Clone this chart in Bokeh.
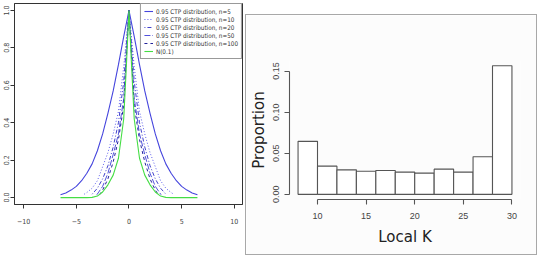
from bokeh.plotting import figure
from bokeh.layouts import row, column
from bokeh.models import FixedTicker, NumeralTickFormatter, Legend, LegendItem
from bokeh.embed import file_html
from bokeh.resources import INLINE

# ---- left panel: CTP distributions against N(0,1), right half (x >= 0) of each symmetric curve
x_n5 = [0, 0.5, 1, 1.5, 2, 2.5, 3, 3.5, 4, 4.5, 5, 5.5, 6, 6.5]
y_n5 = [1.0, 0.86, 0.71, 0.57, 0.45, 0.34, 0.25, 0.18, 0.13, 0.09, 0.06, 0.04, 0.025, 0.015]
x_n10 = [0, 0.5, 1, 1.5, 2, 2.5, 3, 3.5, 4, 4.25]
y_n10 = [1.0, 0.70, 0.46, 0.34, 0.24, 0.165, 0.09, 0.05, 0.027, 0.018]
x_n20 = [0, 0.5, 1, 1.5, 2, 2.5, 3, 3.5]
y_n20 = [1.0, 0.62, 0.40, 0.27, 0.17, 0.10, 0.05, 0.018]
x_n50 = [0, 0.5, 1, 1.5, 2, 2.5, 3.05]
y_n50 = [1.0, 0.53, 0.34, 0.23, 0.13, 0.06, 0.015]
x_n100 = [0, 0.5, 1, 1.5, 2, 2.5, 2.8]
y_n100 = [1.0, 0.49, 0.31, 0.19, 0.10, 0.04, 0.015]
x_norm = [0, 0.25, 0.5, 1, 1.5, 2, 2.5, 3, 3.5, 4, 5, 6, 6.5]
y_norm = [1.0, 0.70, 0.42, 0.21, 0.12, 0.068, 0.03, 0.008, 0.001, 0, 0, 0, 0]

series_labels = ["0.95 CTP distribution, n=5", "0.95 CTP distribution, n=10",
                 "0.95 CTP distribution, n=20", "0.95 CTP distribution, n=50",
                 "0.95 CTP distribution, n=100", "N(0.1)"]
left_xticks = [-10, -5, 0, 5, 10]
left_yticks = [0.0, 0.2, 0.4, 0.6, 0.8, 1.0]

# ---- right panel: histogram of local K
k_edges = [8, 10, 12, 14, 16, 18, 20, 22, 24, 26, 28, 30]
k_prop = [0.0645, 0.0343, 0.0298, 0.0282, 0.029, 0.027, 0.0258, 0.0307, 0.027, 0.0458, 0.1566]
right_xticks = [10, 15, 20, 25, 30]
right_yticks = [0.0, 0.05, 0.10, 0.15]

NARROW = "'DejaVu Sans Condensed', 'Liberation Sans', sans-serif"


def mirror(xs, ys):
    """Full symmetric curve from its right half."""
    fx = [-v for v in reversed(xs[1:])] + list(xs)
    fy = list(reversed(ys[1:])) + list(ys)
    return fx, fy


p1 = figure(width=245, height=257, x_range=(-10.87, 10.78), y_range=(-0.037, 1.037),
            output_backend="svg", toolbar_location=None,
            min_border_left=0, min_border_right=3, min_border_top=3, min_border_bottom=53)
p1.grid.visible = False
p1.outline_line_color = "#333333"
p1.outline_line_width = 1
p1.background_fill_color = "white"
p1.border_fill_color = "white"

styles = [
    ("#4545dd", "solid", 1.1),
    ("#5c5cee", "1 2", 1.0),
    ("#4343cc", "1 2 4 2", 1.0),
    ("#5252dd", "6 2", 1.0),
    ("#22229a", "3 3", 1.0),
    ("#44dd44", "solid", 1.1),
]
curves = [(x_n5, y_n5), (x_n10, y_n10), (x_n20, y_n20), (x_n50, y_n50),
          (x_n100, y_n100), (x_norm, y_norm)]
items = []
for (xs, ys), (col, dash, lw), lab in zip(curves, styles, series_labels):
    fx, fy = mirror(xs, ys)
    r = p1.line(fx, fy, line_color=col, line_dash=dash, line_width=lw)
    items.append(LegendItem(label=lab, renderers=[r]))

leg = Legend(items=items, location="top_right", margin=0, padding=3, spacing=0,
             label_height=8, glyph_height=8, glyph_width=9, label_standoff=3,
             label_text_font=NARROW, label_text_font_size="6.3px",
             label_text_color="#333333", border_line_color="#333333", border_line_width=1,
             background_fill_alpha=1.0)
p1.add_layout(leg)

p1.xaxis.ticker = FixedTicker(ticks=left_xticks)
p1.yaxis.ticker = FixedTicker(ticks=left_yticks)
p1.yaxis.formatter = NumeralTickFormatter(format="0.0")
for ax in (p1.xaxis[0], p1.yaxis[0]):
    ax.minor_tick_line_color = None
    ax.major_tick_in = 0
    ax.major_tick_out = 4
    ax.axis_line_color = "#333333"
    ax.major_tick_line_color = "#333333"
    ax.major_label_text_font = NARROW
    ax.major_label_text_font_size = "7px"
    ax.major_label_text_color = "#444444"
p1.xaxis.major_label_standoff = 9
p1.yaxis.major_label_standoff = 1
p1.yaxis.major_label_orientation = "vertical"

# ---- right panel
p2 = figure(width=292, height=241, x_range=(7.12, 30.88), y_range=(-0.00626, 0.1629),
            output_backend="svg", toolbar_location=None,
            min_border_left=42, min_border_right=18, min_border_top=45, min_border_bottom=57,
            margin=(14, 0, 0, 0),
            styles={"border": "1.5px solid #a8a8a8", "box-sizing": "border-box"})
p2.grid.visible = False
p2.outline_line_color = None
p2.background_fill_color = "#fcfcfc"
p2.border_fill_color = "#fcfcfc"

p2.quad(left=k_edges[:-1], right=k_edges[1:], top=k_prop, bottom=0,
        fill_color="white", line_color="#555555", line_width=1.1)

p2.xaxis.ticker = FixedTicker(ticks=right_xticks)
p2.yaxis.ticker = FixedTicker(ticks=right_yticks)
p2.yaxis.formatter = NumeralTickFormatter(format="0.00")
p2.xaxis.bounds = (right_xticks[0], right_xticks[-1])
p2.yaxis.bounds = (right_yticks[0], right_yticks[-1])
for ax in (p2.xaxis[0], p2.yaxis[0]):
    ax.minor_tick_line_color = None
    ax.major_tick_in = 0
    ax.major_tick_out = 5
    ax.axis_line_color = "#555555"
    ax.axis_line_width = 1.1
    ax.major_tick_line_color = "#555555"
    ax.major_tick_line_width = 1.1
    ax.major_label_text_font = "Liberation Sans"
    ax.major_label_text_font_size = "9px"
    ax.major_label_text_color = "#444444"
    ax.axis_label_text_font = "DejaVu Sans"
    ax.axis_label_text_font_style = "normal"
    ax.axis_label_text_color = "#222222"
p2.xaxis.axis_label = "Local K"
p2.yaxis.axis_label = "Proportion"
p2.xaxis.axis_label_text_font_size = "15px"
p2.yaxis.axis_label_text_font_size = "15px"
p2.xaxis.major_label_standoff = 8
p2.yaxis.major_label_standoff = 5
p2.xaxis.axis_label_standoff = 6
p2.yaxis.axis_label_standoff = 3
p2.yaxis.major_label_orientation = "vertical"

# each panel in its own column so their frames are laid out independently
layout = row(column(p1), column(p2))
open("out.html", "w").write(file_html(layout, INLINE))
